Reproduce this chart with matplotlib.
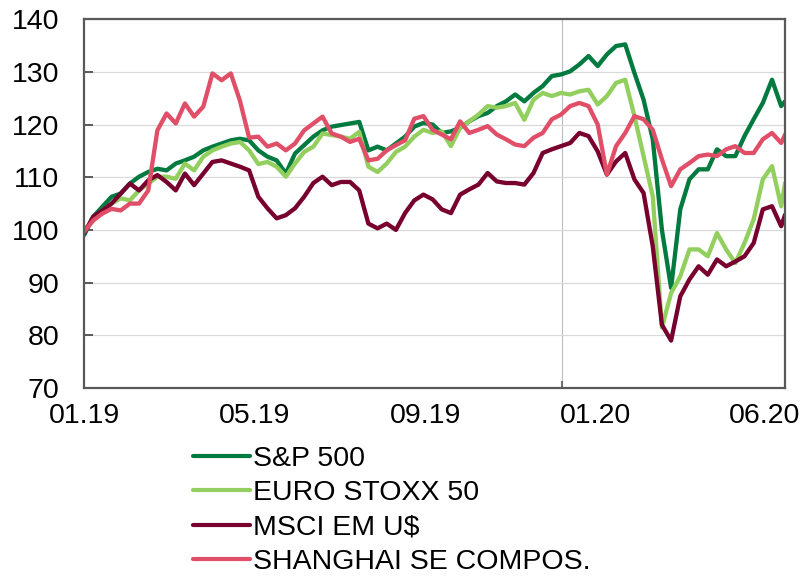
import matplotlib
matplotlib.use("Agg")
import matplotlib.pyplot as plt
import numpy as np
import pandas as pd

# weekly closes rebased to 100 on 01.01.2019
dates = pd.date_range("2019-01-01", periods=77, freq="7D").append(
    pd.DatetimeIndex(["2020-06-19"])
)

sp500 = [
    99.0, 102.5, 104.4, 106.3, 106.9, 108.8, 110.1, 111.0, 111.6, 111.3,
    112.6, 113.2, 113.9, 115.1, 115.8, 116.4, 117.0, 117.3, 117.0, 115.1,
    113.9, 113.2, 110.7, 114.5, 116.1, 117.7, 118.9, 119.6, 119.9, 120.2,
    120.5, 115.1, 115.8, 115.1, 116.4, 117.7, 119.6, 120.3, 120.0, 118.4,
    118.7, 119.4, 120.6, 121.6, 122.2, 123.5, 124.4, 125.7, 124.4, 126.0,
    127.3, 129.2, 129.5, 130.1, 131.4, 133.0, 131.1, 133.3, 134.9, 135.2,
    129.8, 124.7, 117.2, 100.0, 89.0, 103.9, 109.6, 111.5, 111.5, 115.3,
    114.0, 114.0, 117.8, 121.0, 124.1, 128.5, 123.5, 124.4,
]
eurostoxx = [
    100.0, 101.8, 103.7, 105.0, 106.0, 105.6, 107.5, 108.8, 110.1, 110.1,
    109.7, 112.6, 111.3, 113.9, 115.1, 115.8, 116.4, 116.7, 115.1, 112.5,
    112.9, 112.0, 110.1, 112.6, 114.8, 115.8, 118.3, 118.0, 117.7, 117.3,
    118.6, 112.0, 111.0, 112.6, 114.8, 115.8, 117.7, 119.0, 118.4, 118.7,
    115.9, 119.4, 120.6, 121.9, 123.5, 123.2, 123.5, 124.1, 120.9, 124.7,
    126.0, 125.4, 126.0, 125.7, 126.3, 126.6, 123.8, 125.4, 127.9, 128.5,
    121.6, 114.0, 106.4, 81.5, 88.0, 91.2, 96.3, 96.3, 95.0, 99.4,
    96.3, 93.7, 97.5, 102.0, 109.6, 112.1, 104.5, 108.9,
]
msci_em = [
    99.3, 102.5, 103.7, 105.0, 106.9, 108.8, 107.5, 109.4, 110.4, 109.1,
    107.5, 110.7, 108.5, 110.7, 112.9, 113.2, 112.6, 112.0, 111.3, 106.3,
    104.1, 102.2, 102.8, 104.1, 106.3, 108.9, 110.1, 108.5, 109.1, 109.1,
    107.5, 101.2, 100.3, 101.2, 100.0, 103.2, 105.6, 106.7, 105.8, 103.9,
    103.2, 106.7, 107.7, 108.6, 110.8, 109.2, 108.9, 108.9, 108.6, 110.8,
    114.6, 115.3, 115.9, 116.5, 118.4, 117.8, 114.9, 110.5, 113.0, 114.6,
    109.6, 107.0, 96.9, 82.0, 79.0, 87.4, 90.6, 93.1, 91.5, 94.4,
    93.1, 94.0, 95.0, 97.5, 103.9, 104.5, 100.7, 102.9,
]
shanghai = [
    99.6, 101.8, 103.1, 104.0, 103.7, 105.0, 105.0, 107.5, 118.9, 122.1,
    120.2, 124.0, 121.5, 123.4, 129.7, 128.4, 129.7, 124.5, 117.5, 117.7,
    115.8, 116.4, 115.1, 116.4, 118.9, 120.2, 121.5, 118.3, 117.7, 116.7,
    117.3, 113.2, 113.5, 115.1, 116.1, 117.0, 121.1, 121.6, 119.0, 118.1,
    117.2, 120.6, 118.4, 119.0, 119.7, 118.1, 117.2, 116.2, 115.9, 117.5,
    118.4, 121.0, 121.9, 123.5, 124.1, 123.5, 120.0, 110.5, 115.9, 118.4,
    121.6, 121.0, 119.0, 113.4, 108.3, 111.5, 112.7, 114.0, 114.3, 114.0,
    115.3, 115.9, 114.6, 114.6, 117.2, 118.4, 116.5, 118.1,
]

series_names = ["S&P 500", "EURO STOXX 50", "MSCI EM U$", "SHANGHAI SE COMPOS."]
series_colors = ["#007a3f", "#92cf5e", "#78002e", "#e04e67"]

tick_dates = pd.to_datetime(
    ["2019-01-01", "2019-05-11", "2019-09-19", "2020-01-26", "2020-06-03"]
)
tick_labels = ["01.19", "05.19", "09.19", "01.20", "06.20"]
year_break = pd.Timestamp("2020-01-01")

plt.rcParams["font.family"] = ["Liberation Sans", "DejaVu Sans"]
frame_col = "#595959"

fig = plt.figure(figsize=(8.04, 5.8), dpi=100)
ax = fig.add_axes([0.1045, 0.331, 0.872, 0.636])

for vals, name, col in zip([sp500, eurostoxx, msci_em, shanghai], series_names, series_colors):
    ax.plot(dates, vals, color=col, lw=3.1, label=name,
            solid_joinstyle="round", solid_capstyle="round")

ax.set_xlim(pd.Timestamp("2019-01-01"), pd.Timestamp("2020-06-19"))
ax.set_ylim(70, 140)
ax.set_yticks(np.arange(70, 141, 10))
ax.yaxis.grid(True, color="#d9d9d9", lw=0.9)
ax.set_axisbelow(True)
ax.axvline(year_break, color="#b9bdc1", lw=0.8, zorder=0.5)

ax.set_xticks(tick_dates)
ax.set_xticklabels(tick_labels)
ax.set_xticks([year_break], minor=True)
ax.tick_params(axis="x", which="major", length=0, pad=11, labelsize=20.5)
ax.tick_params(axis="x", which="minor", direction="in", length=5, width=1.2, color=frame_col)
ax.tick_params(axis="y", direction="in", length=6.5, width=1.4, color=frame_col,
               pad=18, labelsize=20.5)

for sp in ax.spines.values():
    sp.set_color(frame_col)
    sp.set_linewidth(1.6)

leg = fig.legend(loc="upper left", bbox_to_anchor=(193 / 804, 1 - 446 / 580),
                 frameon=False, fontsize=20.5, handlelength=2.0, handletextpad=0.1,
                 labelspacing=0.29, borderpad=0, borderaxespad=0)
for line in leg.get_lines():
    line.set_linewidth(3.0)
    line.set_solid_capstyle("round")

fig.savefig("out.png", dpi=100)
